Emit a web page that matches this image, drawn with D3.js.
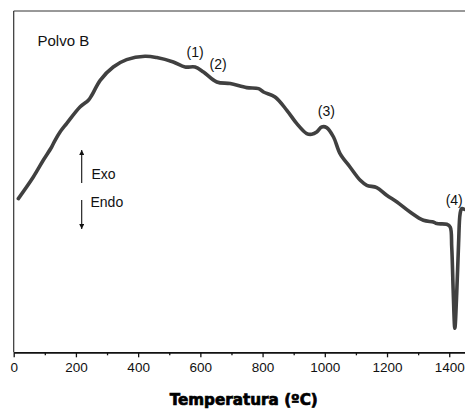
<!DOCTYPE html>
<html>
<head>
<meta charset="utf-8">
<script src="https://cdn.jsdelivr.net/npm/d3@7"></script>
<style>
  html, body { margin: 0; padding: 0; background: #fff; }
  svg { display: block; }
</style>
</head>
<body>
<svg id="chart" width="465" height="411"></svg>
<script>
// Temperature (°C)
const temperature = [15, 63, 95, 122, 133, 149, 170, 213, 240, 251, 278, 320, 363, 422, 460, 513, 551, 583, 610, 653, 696, 749, 787, 803, 840, 878, 910, 942, 958, 974, 990, 1006, 1028, 1049, 1081, 1114, 1135, 1167, 1199, 1232, 1274, 1317, 1349, 1360, 1392, 1403, 1408, 1413, 1418, 1424, 1430, 1435, 1440, 1448];
// DTA signal (arbitrary units)
const signal = [15.37, 17.53, 19.2, 20.53, 21.2, 22.03, 22.87, 24.53, 25.2, 25.7, 27.2, 28.53, 29.27, 29.6, 29.47, 29.03, 28.53, 28.53, 28.03, 27.03, 26.87, 26.47, 26.37, 26.03, 25.53, 24.2, 22.87, 21.87, 21.8, 22.03, 22.53, 22.47, 21.53, 19.87, 18.53, 17.2, 16.7, 16.47, 15.7, 15.03, 14.03, 13.2, 13.03, 12.87, 12.8, 12.53, 10.53, 5.87, 2.4, 5.87, 10.87, 13.87, 14.37, 14.3];
const xTicks = [0, 200, 400, 600, 800, 1000, 1200, 1400];
const xMinorTicks = [100, 300, 500, 700, 900, 1100, 1300];
const peakLabels = ["(1)", "(2)", "(3)", "(4)"];
const peakTemps = [583, 657, 1005, 1416];
const peakSignal = [29.5, 28.3, 23.6, 14.7];

(function () {
const svg = d3.select("#chart");
const mLeft = 13.7, mTop = 11, mBottom = 352.3;
const x = d3.scaleLinear().domain([0, 1450]).range([mLeft, mLeft + 1450 * 0.3111]);
const y = d3.scaleLinear().domain([0, 34.13]).range([mBottom, mTop]);

// frame: top and left lines
svg.append("line").attr("x1", mLeft).attr("x2", 465).attr("y1", mTop).attr("y2", mTop)
  .attr("stroke", "#333").attr("stroke-width", 1);
svg.append("line").attr("x1", mLeft).attr("x2", mLeft).attr("y1", mTop).attr("y2", mBottom)
  .attr("stroke", "#333").attr("stroke-width", 1.2);

// bottom axis
const ax = svg.append("g").attr("transform", `translate(0,${mBottom})`)
  .call(d3.axisBottom(x).tickValues(xTicks).tickSize(5).tickSizeOuter(0).tickFormat(d3.format("d")));
ax.select(".domain").attr("stroke", "#111").attr("stroke-width", 1.8);
ax.selectAll(".tick line").attr("stroke", "#111").attr("stroke-width", 1.3);
ax.selectAll(".tick text").attr("font-family", "Liberation Sans, Arial, sans-serif")
  .attr("font-size", 13.5).attr("fill", "#111").attr("dy", "0.9em");
const axm = svg.append("g").attr("transform", `translate(0,${mBottom})`)
  .call(d3.axisBottom(x).tickValues(xMinorTicks).tickSize(3).tickFormat(""));
axm.select(".domain").remove();
axm.selectAll(".tick line").attr("stroke", "#111").attr("stroke-width", 1.3);

// axis title
svg.append("text").attr("x", 243.7).attr("y", 405).attr("text-anchor", "middle")
  .attr("font-family", "DejaVu Sans, sans-serif").attr("font-weight", "bold")
  .attr("font-size", 15.2).attr("fill", "#000").attr("stroke", "#000").attr("stroke-width", 0.7)
  .text("Temperatura (ºC)");

// curve
const data = temperature.map((t, i) => [t, signal[i]]);
const line = d3.line().x(d => x(d[0])).y(d => y(d[1])).curve(d3.curveCatmullRom.alpha(0.5));
svg.append("path").datum(data).attr("d", line).attr("fill", "none")
  .attr("stroke", "#404040").attr("stroke-width", 3.6)
  .attr("stroke-linejoin", "round").attr("stroke-linecap", "round");

// labels
const font = "Liberation Sans, Arial, sans-serif";
svg.append("text").attr("x", 37.5).attr("y", 45.5).attr("font-family", font)
  .attr("font-size", 15).attr("fill", "#111").text("Polvo B");
peakLabels.forEach((lab, i) => {
  svg.append("text").attr("x", x(peakTemps[i])).attr("y", y(peakSignal[i]))
    .attr("text-anchor", "middle").attr("font-family", font)
    .attr("font-size", 14).attr("fill", "#111").text(lab);
});

// Exo / Endo arrows
const defs = svg.append("defs");
defs.append("marker").attr("id", "ah").attr("viewBox", "0 0 10 10").attr("refX", 10).attr("refY", 5)
  .attr("markerWidth", 4.5).attr("markerHeight", 4.5).attr("orient", "auto")
  .append("path").attr("d", "M0,0 L10,5 L0,10 z").attr("fill", "#111");
svg.append("line").attr("x1", 81.7).attr("x2", 81.7).attr("y1", 183).attr("y2", 150)
  .attr("stroke", "#111").attr("stroke-width", 1.1).attr("marker-end", "url(#ah)");
svg.append("line").attr("x1", 81.7).attr("x2", 81.7).attr("y1", 200).attr("y2", 229)
  .attr("stroke", "#111").attr("stroke-width", 1.1).attr("marker-end", "url(#ah)");
svg.append("text").attr("x", 91.5).attr("y", 179).attr("font-family", font)
  .attr("font-size", 14).attr("fill", "#111").text("Exo");
svg.append("text").attr("x", 90.5).attr("y", 207).attr("font-family", font)
  .attr("font-size", 14).attr("fill", "#111").text("Endo");
})();
</script>
</body>
</html>
